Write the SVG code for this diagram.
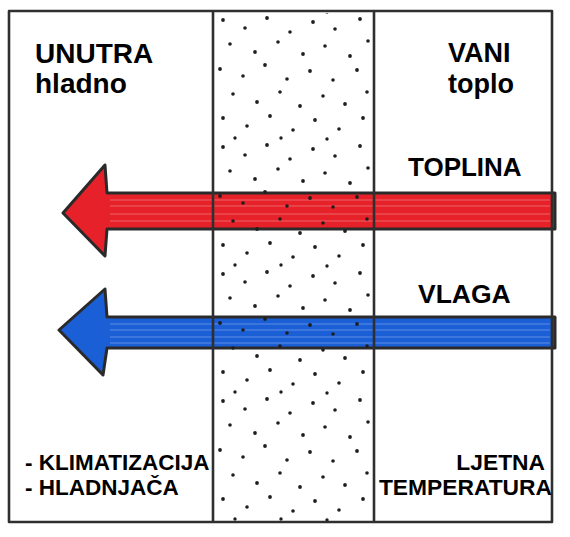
<svg xmlns="http://www.w3.org/2000/svg" width="570" height="537" viewBox="0 0 570 537">
<style>
.ln{stroke:#2f2f2f;stroke-width:2.6;fill:none;stroke-linecap:round}
.arr{stroke:#2a2a2a;stroke-width:3;stroke-linejoin:round}
.streak{stroke:#ffffff;stroke-opacity:0.3;stroke-width:1}
.t{font-family:"Liberation Sans",Arial,sans-serif;font-weight:bold;fill:#000}
#insulation circle{r:1.9px}
</style>
<defs>
<pattern id="dots" patternUnits="userSpaceOnUse" x="215" y="14" width="160" height="127">
<g fill="#1e1e1e">
<circle cx="8" cy="6" r="1.9"/><circle cx="30" cy="14" r="1.8"/><circle cx="52" cy="4" r="1.9"/><circle cx="75" cy="18" r="1.8"/><circle cx="98" cy="8" r="1.9"/><circle cx="120" cy="15" r="1.8"/><circle cx="145" cy="5" r="1.9"/>
<circle cx="15" cy="30" r="1.8"/><circle cx="40" cy="38" r="1.9"/><circle cx="63" cy="28" r="1.8"/><circle cx="88" cy="40" r="1.9"/><circle cx="110" cy="32" r="1.8"/><circle cx="135" cy="42" r="1.9"/><circle cx="153" cy="27" r="1.8"/>
<circle cx="5" cy="55" r="1.9"/><circle cx="28" cy="62" r="1.8"/><circle cx="50" cy="51" r="1.9"/><circle cx="72" cy="65" r="1.8"/><circle cx="95" cy="57" r="1.9"/><circle cx="118" cy="66" r="1.8"/><circle cx="142" cy="56" r="1.9"/>
<circle cx="18" cy="80" r="1.8"/><circle cx="42" cy="88" r="1.9"/><circle cx="65" cy="78" r="1.8"/><circle cx="85" cy="92" r="1.9"/><circle cx="108" cy="82" r="1.8"/><circle cx="130" cy="90" r="1.9"/><circle cx="152" cy="78" r="1.8"/>
<circle cx="8" cy="104" r="1.9"/><circle cx="32" cy="112" r="1.8"/><circle cx="55" cy="102" r="1.9"/><circle cx="78" cy="116" r="1.8"/><circle cx="100" cy="106" r="1.9"/><circle cx="124" cy="115" r="1.8"/><circle cx="148" cy="104" r="1.9"/><circle cx="20" cy="124" r="1.7"/><circle cx="66" cy="124" r="1.7"/><circle cx="112" cy="125" r="1.7"/>
</g>
</pattern>
</defs>
<rect width="570" height="537" fill="#fff"/>
<g id="arrow-heat">
<path class="arr" fill="#e62129" d="M555,193 L107,193 L105,165 L63,213 L105,256 L107,229 L555,229 Z"/>
<path class="streak" d="M110,200 H550 M110,206 H550 M110,214 H550 M110,221 H550"/>
</g>
<g id="arrow-moisture">
<path class="arr" fill="#1a5fd6" d="M555,317 L107,317 L105,289 L59,330 L103,375 L107,348 L555,348 Z"/>
<path class="streak" d="M110,324 H550 M110,330 H550 M110,337 H550 M110,343 H550"/>
</g>
<g id="insulation">
<rect x="215" y="13" width="157" height="508" fill="url(#dots)"/>
</g>
<g id="frame">
<path class="ln" d="M9,11 H552 M9,522 H552 M9,11 V522 M552,11 V522 M213,11 V522 M374,11 V522"/>
</g>
<g id="labels">
<text class="t" x="35" y="63" font-size="28">UNUTRA</text>
<text class="t" x="35" y="93" font-size="28">hladno</text>
<text class="t" x="448" y="62" font-size="27">VANI</text>
<text class="t" x="448" y="93" font-size="27">toplo</text>
<text class="t" x="408" y="176" font-size="26">TOPLINA</text>
<text class="t" x="418" y="303" font-size="26.5">VLAGA</text>
<text class="t" x="25" y="470" font-size="22.5">- KLIMATIZACIJA</text>
<text class="t" x="25" y="495" font-size="22.5">- HLADNJAČA</text>
<text class="t" x="545" y="470" font-size="22.8" text-anchor="end">LJETNA</text>
<text class="t" x="552" y="495" font-size="22.8" text-anchor="end">TEMPERATURA</text>
</g>
</svg>
